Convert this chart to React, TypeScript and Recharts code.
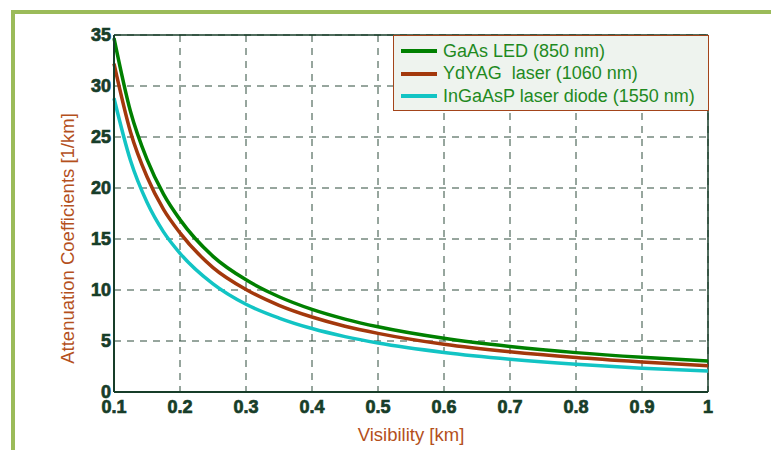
import React from "react";
import {
  LineChart,
  Line,
  XAxis,
  YAxis,
  CartesianGrid,
  ReferenceLine,
} from "recharts";

const visibility = [0.1, 0.125, 0.15, 0.175, 0.2, 0.25, 0.3, 0.35, 0.4, 0.45, 0.5, 0.6, 0.7, 0.8, 0.9, 1.0];
const gaasLed = [34.7, 27.5, 22.8, 19.4, 16.9, 13.3, 11.0, 9.34, 8.1, 7.15, 6.39, 5.26, 4.46, 3.86, 3.4, 3.03];
const ydYag = [32.2, 25.5, 21.1, 17.9, 15.6, 12.2, 10.05, 8.5, 7.35, 6.45, 5.75, 4.68, 3.94, 3.38, 2.95, 2.58];
const inGaAsP = [28.8, 22.7, 18.6, 15.7, 13.6, 10.6, 8.6, 7.25, 6.22, 5.43, 4.8, 3.88, 3.22, 2.72, 2.34, 2.05];

const xTicks = [0.1, 0.2, 0.3, 0.4, 0.5, 0.6, 0.7, 0.8, 0.9, 1];
const yTicks = [0, 5, 10, 15, 20, 25, 30, 35];

const seriesKeys = ["a", "b", "c"];
const seriesNames = [
  "GaAs LED (850 nm)",
  "YdYAG  laser (1060 nm)",
  "InGaAsP laser diode (1550 nm)",
];
const seriesColors = ["#008000", "#a3380c", "#12c4c4"];

const data = visibility.map((v, i) => ({
  v,
  a: gaasLed[i],
  b: ydYag[i],
  c: inGaAsP[i],
}));

const font = "'Liberation Sans', Arial, sans-serif";
const tickStyle = {
  fill: "#173d29",
  stroke: "#173d29",
  strokeWidth: 0.7,
  fontSize: 18,
  fontWeight: 700,
  fontFamily: font,
};
const labelColor = "#b4501c";

const LegendBox = () => (
  <div
    style={{
      position: "absolute",
      left: 393,
      top: 35,
      width: 316,
      height: 76,
      border: "1.5px solid #a3441a",
      background: "#eef3ee",
      boxSizing: "border-box",
      paddingTop: 4,
      fontFamily: font,
    }}
  >
    {seriesNames.map((name, i) => (
      <div
        key={name}
        style={{ display: "flex", alignItems: "center", height: 22.5, whiteSpace: "pre" }}
      >
        <div
          style={{
            width: 36,
            height: 4,
            background: seriesColors[i],
            marginLeft: 7,
            marginRight: 6,
          }}
        />
        <span style={{ color: "#1f8a1f", fontSize: 18 }}>{name}</span>
      </div>
    ))}
  </div>
);

const YLabel = (props: any) => {
  const vb = props.viewBox;
  const cx = 67;
  const cy = vb.y + vb.height / 2 + 25;
  return (
    <text
      x={cx}
      y={cy}
      transform={`rotate(-90, ${cx}, ${cy})`}
      textAnchor="middle"
      dominantBaseline="central"
      fill={labelColor}
      fontSize={18.5}
      fontFamily={font}
    >
      Attenuation Coefficients [1/km]
    </text>
  );
};

const XLabel = (props: any) => {
  const vb = props.viewBox;
  return (
    <text
      x={vb.x + vb.width / 2}
      y={434}
      textAnchor="middle"
      dominantBaseline="central"
      fill={labelColor}
      fontSize={18.5}
      fontFamily={font}
    >
      Visibility [km]
    </text>
  );
};

const App: React.FC = () => {
  return (
    <div
      style={{
        position: "absolute",
        top: 0,
        left: 0,
        width: 771,
        height: 450,
        background: "#fff",
        overflow: "hidden",
      }}
    >
      <div
        style={{
          position: "absolute",
          left: 11,
          top: 10,
          width: 800,
          height: 500,
          borderTop: "4px solid #9bbb59",
          borderLeft: "4px solid #9bbb59",
        }}
      />
      <div style={{ position: "absolute", top: 0, left: 0 }}>
        <LineChart
          width={771}
          height={450}
          data={data}
          margin={{ top: 35, right: 63, left: 58, bottom: 28 }}
        >
          <CartesianGrid
            stroke="#2e4d3c"
            strokeDasharray="7 6"
            strokeWidth={1}
          />
          <XAxis
            dataKey="v"
            type="number"
            domain={[0.1, 1]}
            ticks={xTicks}
            tickFormatter={(v) => String(v)}
            tickLine={false}
            tickSize={0}
            tickMargin={8}
            height={30}
            tick={tickStyle}
            stroke="#173d29"
            strokeWidth={2}
            label={<XLabel />}
          />
          <YAxis
            type="number"
            domain={[0, 35]}
            ticks={yTicks}
            tickLine={false}
            tickSize={0}
            tickMargin={3}
            width={56}
            tick={tickStyle}
            stroke="#173d29"
            strokeWidth={2}
            label={<YLabel />}
          />
          <ReferenceLine y={35} stroke="#173d29" strokeWidth={1.5} />
          <ReferenceLine x={1} stroke="#173d29" strokeWidth={1.5} />
          {seriesKeys.map((k, i) => (
            <Line
              key={k}
              type="monotone"
              dataKey={k}
              name={seriesNames[i]}
              stroke={seriesColors[i]}
              strokeWidth={3.5}
              dot={false}
              isAnimationActive={false}
            />
          ))}
        </LineChart>
      </div>
      <LegendBox />
    </div>
  );
};

export default App;
